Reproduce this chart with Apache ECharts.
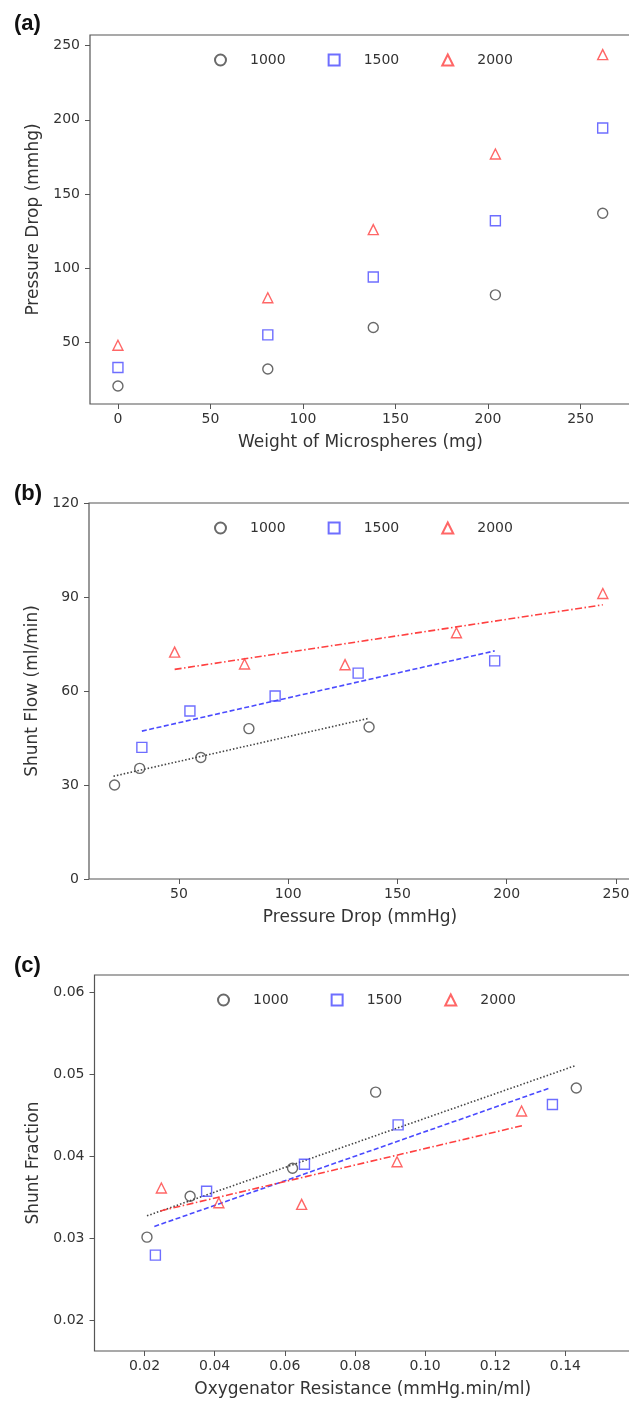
<!DOCTYPE html>
<html>
<head>
<meta charset="utf-8">
<script src="https://cdn.jsdelivr.net/npm/echarts@6/dist/echarts.min.js"></script>
<style>
html,body{margin:0;padding:0;background:#fff;overflow:hidden;width:629px;height:1401px;}
#chart{width:660px;height:1401px;}
</style>
</head>
<body>
<div id="chart"></div>
<script>
// ---------- data ----------
const seriesNames = ['1000', '1500', '2000'];

// (a) Weight of microspheres vs pressure drop
const weightMg = [0, 81, 138, 204, 262];
const dropA1000 = [20.5, 32, 60, 82, 137];
const dropA1500 = [33, 55, 94, 132, 194.5];
const dropA2000 = [48, 80, 126, 177, 244];

// (b) Pressure drop vs shunt flow
const flowB1000 = [30, 35.3, 38.8, 48, 48.5];
const flowB1500 = [42, 53.6, 58.4, 65.7, 69.6];
const flowB2000 = [72.4, 68.6, 68.4, 78.6, 91.1];
const fitB1000 = [[20, 32.8], [137, 51.3]];
const fitB1500 = [[33, 47.2], [194.5, 72.8]];
const fitB2000 = [[48, 66.9], [244, 87.5]];

// (c) Oxygenator resistance vs shunt fraction
const resC1000 = [0.0207, 0.033, 0.0622, 0.0859, 0.1431];
const fracC1000 = [0.0301, 0.0351, 0.0385, 0.0478, 0.0483];
const resC1500 = [0.0231, 0.0377, 0.0656, 0.0923, 0.1363];
const fracC1500 = [0.0279, 0.0357, 0.039, 0.0438, 0.0463];
const resC2000 = [0.0248, 0.0412, 0.0648, 0.092, 0.1275];
const fracC2000 = [0.0361, 0.0343, 0.0341, 0.0393, 0.0455];
const fitC1000 = [[0.0207, 0.0327], [0.1426, 0.0510]];
const fitC1500 = [[0.0228, 0.0314], [0.1355, 0.0483]];
const fitC2000 = [[0.0245, 0.0333], [0.1276, 0.0437]];

// tick labels
const ticksAx = [0, 50, 100, 150, 200, 250];
const ticksAy = [50, 100, 150, 200, 250];
const ticksBx = [50, 100, 150, 200, 250];
const ticksBy = [0, 30, 60, 90, 120];
const ticksCx = [0.02, 0.04, 0.06, 0.08, 0.10, 0.12, 0.14];
const ticksCy = [0.02, 0.03, 0.04, 0.05, 0.06];

// ---------- styles ----------
const FONT = 'DejaVu Sans';
const AXC = '#555';
const TXT = '#333';
const colors = {'1000': '#444444', '1500': '#4a4aff', '2000': '#ff4040'};
const symbols = {'1000': 'circle', '1500': 'rect', '2000': 'triangle'};
const sizes = {'1000': 10, '1500': 10, '2000': 10};

function zip(xs, ys) { return xs.map((x, i) => [x, ys[i]]); }

function xAx(gi, min, max, ticks, name, fmt) {
  return {
    type: 'value', gridIndex: gi, min: min, max: max,
    name: name, nameLocation: 'middle', nameGap: 30,
    nameTextStyle: {fontSize: 17, color: TXT, fontFamily: FONT},
    axisLine: {show: false, onZero: false},
    axisTick: {show: true, inside: false, length: 5, lineStyle: {color: AXC, width: 1}, customValues: ticks},
    axisLabel: {customValues: ticks, fontSize: 14, color: TXT, fontFamily: FONT, margin: 8, formatter: fmt},
    splitLine: {show: false}
  };
}
function yAx(gi, min, max, ticks, name, fmt) {
  return {
    type: 'value', gridIndex: gi, min: min, max: max,
    name: name, nameLocation: 'middle', nameGap: 48,
    nameTextStyle: {fontSize: 17, color: TXT, fontFamily: FONT},
    axisLine: {show: false, onZero: false},
    axisTick: {show: true, inside: false, length: 5, lineStyle: {color: AXC, width: 1}, customValues: ticks},
    axisLabel: {customValues: ticks, fontSize: 14, color: TXT, fontFamily: FONT, margin: 10, formatter: fmt},
    splitLine: {show: false}
  };
}
function scatter(name, gi, data) {
  return {
    type: 'scatter', name: name, xAxisIndex: gi, yAxisIndex: gi, data: data,
    symbol: symbols[name], symbolSize: sizes[name],
    itemStyle: {color: 'rgba(255,255,255,0)', borderColor: colors[name], borderWidth: 1.4},
    emphasis: {disabled: true}, z: 3
  };
}
function fit(name, gi, data, dash) {
  return {
    type: 'line', name: 'fit' + name + gi, xAxisIndex: gi, yAxisIndex: gi, data: data,
    showSymbol: false, symbol: 'none',
    lineStyle: {color: colors[name], width: 1.6, type: dash},
    emphasis: {disabled: true}, z: 2
  };
}
function legend(left, top) {
  return {
    data: seriesNames, left: left, top: top, orient: 'horizontal',
    itemWidth: 11, itemHeight: 11, itemGap: 42, selectedMode: false,
    textStyle: {fontSize: 14, color: TXT, fontFamily: FONT, padding: [0, 0, 0, 19]}
  };
}
const gridStyle = {show: true, borderColor: AXC, borderWidth: 1.2, backgroundColor: 'transparent', containLabel: false};

const fmt0 = v => String(v);
const fmt2 = v => v.toFixed(2);

// plot areas run to x = 631, just past the visible right edge (629)
const option = {
  animation: false,
  backgroundColor: '#fff',
  title: [
    {text: '(a)', left: 9, top: 8, textStyle: {fontSize: 22, fontWeight: 'bold', color: '#111', fontFamily: 'Liberation Sans'}},
    {text: '(b)', left: 9, top: 478, textStyle: {fontSize: 22, fontWeight: 'bold', color: '#111', fontFamily: 'Liberation Sans'}},
    {text: '(c)', left: 9, top: 950, textStyle: {fontSize: 22, fontWeight: 'bold', color: '#111', fontFamily: 'Liberation Sans'}}
  ],
  legend: [legend(209, 48), legend(209, 516), legend(212, 988)],
  grid: [
    Object.assign({left: 90, top: 35, width: 541, height: 369}, gridStyle),
    Object.assign({left: 89, top: 503, width: 542, height: 376}, gridStyle),
    Object.assign({left: 94.5, top: 975, width: 536.5, height: 376}, gridStyle)
  ],
  xAxis: [
    xAx(0, -15.1, 277.3, ticksAx, 'Weight of Microspheres (mg)', fmt0),
    xAx(1, 8.8, 256.9, ticksBx, 'Pressure Drop (mmHg)', fmt0),
    xAx(2, 0.00574, 0.1587, ticksCx, 'Oxygenator Resistance (mmHg.min/ml)', fmt2)
  ],
  yAxis: [
    yAx(0, 8.4, 257.2, ticksAy, 'Pressure Drop (mmhg)', fmt0),
    yAx(1, 0, 120, ticksBy, 'Shunt Flow (ml/min)', fmt0),
    yAx(2, 0.0162, 0.0621, ticksCy, 'Shunt Fraction', fmt2)
  ],
  series: [
    scatter('1000', 0, zip(weightMg, dropA1000)),
    scatter('1500', 0, zip(weightMg, dropA1500)),
    scatter('2000', 0, zip(weightMg, dropA2000)),

    fit('1000', 1, fitB1000, [1.5, 2]),
    fit('1500', 1, fitB1500, [5, 2.5]),
    fit('2000', 1, fitB2000, [7, 2.5, 1.5, 2.5]),
    scatter('1000', 1, zip(dropA1000, flowB1000)),
    scatter('1500', 1, zip(dropA1500, flowB1500)),
    scatter('2000', 1, zip(dropA2000, flowB2000)),

    fit('1000', 2, fitC1000, [1.5, 2]),
    fit('1500', 2, fitC1500, [5, 2.5]),
    fit('2000', 2, fitC2000, [7, 2.5, 1.5, 2.5]),
    scatter('1000', 2, zip(resC1000, fracC1000)),
    scatter('1500', 2, zip(resC1500, fracC1500)),
    scatter('2000', 2, zip(resC2000, fracC2000))
  ]
};

const chart = echarts.init(document.getElementById('chart'), null, {renderer: 'canvas'});
chart.setOption(option);
</script>
</body>
</html>
